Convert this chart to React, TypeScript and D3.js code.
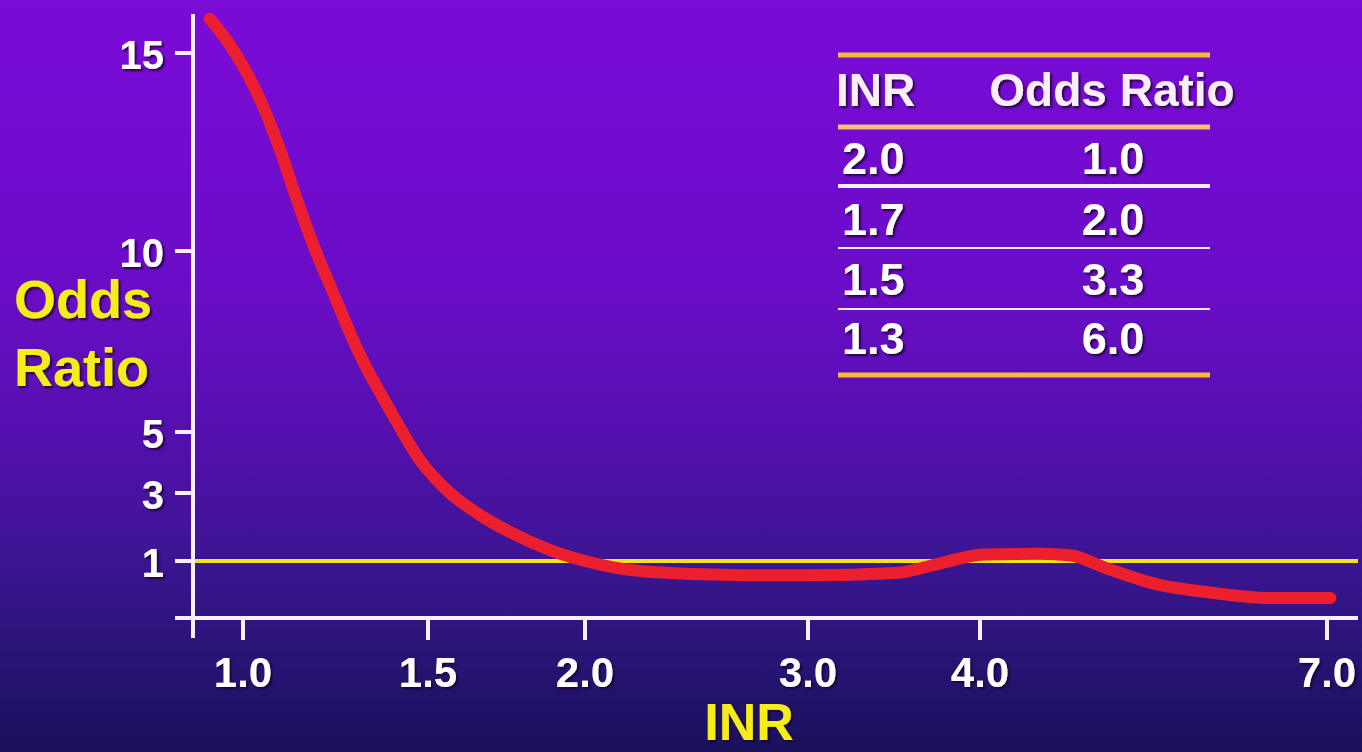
import React from "react";
import * as d3 from "d3";

// Axis ticks
const inrTicks = [1.0, 1.5, 2.0, 3.0, 4.0, 7.0];
const oddsTicks = [1, 3, 5, 10, 15];

// Odds ratio curve across INR
const curveInr = [0.91, 0.965, 1.046, 1.1, 1.146, 1.195, 1.235, 1.316, 1.397, 1.478, 1.57, 1.666, 1.761, 1.889, 2.0, 2.28, 2.72, 3.0, 3.51, 3.77, 4.03, 4.52, 4.79, 5.07, 5.55, 6.02, 6.5, 7.03];
const curveOdds = [15.86, 15.2, 13.83, 12.56, 11.29, 10.03, 9.06, 7.13, 5.61, 4.08, 3.0, 2.35, 1.85, 1.32, 1.0, 0.81, 0.75, 0.75, 0.79, 0.96, 1.19, 1.21, 1.16, 0.89, 0.58, 0.44, 0.35, 0.35];

// Inset table
const tableHeader = ["INR", "Odds Ratio"];
const tableInr = ["2.0", "1.7", "1.5", "1.3"];
const tableOdds = ["1.0", "2.0", "3.3", "6.0"];

const W = 1362;
const H = 752;
const FONT = "'Liberation Sans', Arial, Helvetica, sans-serif";

// Hand-spaced axes: piecewise-linear scales through the tick positions
const x = d3.scaleLinear().domain(inrTicks).range([243, 428, 585, 808, 980, 1327]);
const y = d3.scaleLinear().domain([0, ...oddsTicks]).range([618, 561, 493, 432, 251, 53]);

const axisLeft = 193;
const axisBottom = 618;

type TProps = {
  x: number;
  y: number;
  size: number;
  fill: string;
  anchor?: "start" | "middle" | "end";
  children: React.ReactNode;
};

function T({ x: tx, y: ty, size, fill, anchor = "start", children }: TProps) {
  return (
    <text
      x={tx}
      y={ty}
      fontFamily={FONT}
      fontWeight="bold"
      fontSize={size}
      fill={fill}
      textAnchor={anchor}
      filter="url(#shadow)"
    >
      {children}
    </text>
  );
}

export default function App() {
  const pts: [number, number][] = curveInr.map((v, i) => [v, curveOdds[i]]);
  const line = d3
    .line<[number, number]>()
    .x((d) => x(d[0]))
    .y((d) => y(d[1]))
    .curve(d3.curveMonotoneX);

  const tblLeft = 838;
  const tblRight = 1210;
  const oddsCenter = 1113;
  const rowBase = [174, 235, 295, 354];
  const whiteLines = [{ y: 186, w: 4 }, { y: 248, w: 2 }, { y: 309, w: 2 }];

  return (
    <svg
      width={W}
      height={H}
      style={{ position: "fixed", left: 0, top: 0, display: "block" }}
    >
      <defs>
        <linearGradient id="bg" x1="0" y1="0" x2="0" y2="1">
          <stop offset="0" stopColor="#7b0bd8" />
          <stop offset="0.4" stopColor="#690dc6" />
          <stop offset="0.6" stopColor="#5110aa" />
          <stop offset="0.75" stopColor="#3b1592" />
          <stop offset="0.86" stopColor="#2a1478" />
          <stop offset="1" stopColor="#1a115c" />
        </linearGradient>
        <filter id="shadow" x="-10%" y="-10%" width="130%" height="140%">
          <feDropShadow dx="2" dy="2" stdDeviation="1" floodColor="#14002c" floodOpacity="0.85" />
        </filter>
      </defs>

      <rect x={0} y={0} width={W} height={H} fill="url(#bg)" />

      {/* reference line at odds ratio 1 */}
      <line x1={axisLeft} x2={1358} y1={y(1)} y2={y(1)} stroke="#f2e21e" strokeWidth={4} />

      {/* axes */}
      <line x1={axisLeft} x2={axisLeft} y1={14} y2={638} stroke="#fbeefb" strokeWidth={4} />
      <line x1={175} x2={1358} y1={axisBottom} y2={axisBottom} stroke="#fbeefb" strokeWidth={4} />

      {oddsTicks.map((t) => (
        <g key={`y${t}`}>
          <line x1={175} x2={axisLeft} y1={y(t)} y2={y(t)} stroke="#fbeefb" strokeWidth={4} />
          <T x={164} y={y(t) + 16} size={40} fill="#ffffff" anchor="end">
            {t}
          </T>
        </g>
      ))}

      {inrTicks.map((t) => (
        <g key={`x${t}`}>
          <line x1={x(t)} x2={x(t)} y1={axisBottom} y2={640} stroke="#fbeefb" strokeWidth={4} />
          <T x={x(t)} y={687} size={42} fill="#ffffff" anchor="middle">
            {t.toFixed(1)}
          </T>
        </g>
      ))}

      {/* axis titles */}
      <T x={14} y={318} size={54} fill="#f5ec1a">Odds</T>
      <T x={14} y={386} size={54} fill="#f5ec1a">Ratio</T>
      <T x={749} y={740} size={52} fill="#f5ec1a" anchor="middle">INR</T>

      {/* curve */}
      <path
        d={line(pts) || ""}
        fill="none"
        stroke="#ec1f2e"
        strokeWidth={12}
        strokeLinecap="round"
        strokeLinejoin="round"
      />

      {/* table */}
      <line x1={tblLeft} x2={tblRight} y1={55} y2={55} stroke="#f6b93a" strokeWidth={5} />
      <line x1={tblLeft} x2={tblRight} y1={127} y2={127} stroke="#f4c07a" strokeWidth={5} />
      <line x1={tblLeft} x2={tblRight} y1={375} y2={375} stroke="#f6b93a" strokeWidth={5} />
      {whiteLines.map((l) => (
        <line key={l.y} x1={tblLeft} x2={tblRight} y1={l.y} y2={l.y} stroke="#fbeefb" strokeWidth={l.w} />
      ))}
      <T x={836} y={106} size={46} fill="#fbeefb">{tableHeader[0]}</T>
      <T x={1112} y={106} size={46} fill="#fbeefb" anchor="middle">{tableHeader[1]}</T>
      {tableInr.map((v, i) => (
        <g key={`r${i}`}>
          <T x={842} y={rowBase[i]} size={45} fill="#ffffff">{v}</T>
          <T x={oddsCenter} y={rowBase[i]} size={45} fill="#ffffff" anchor="middle">
            {tableOdds[i]}
          </T>
        </g>
      ))}
    </svg>
  );
}
